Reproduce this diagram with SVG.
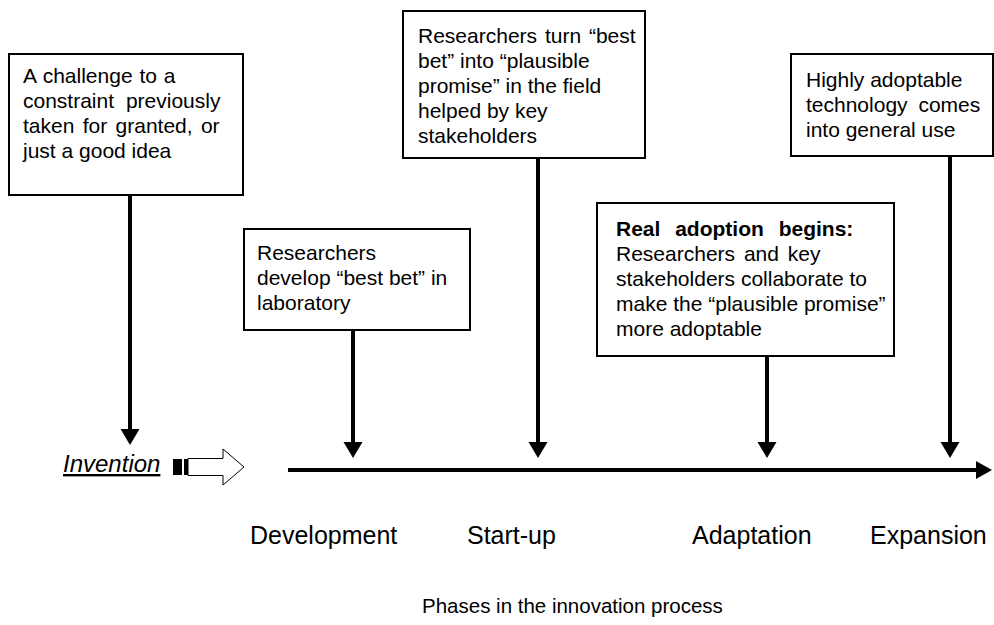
<svg xmlns="http://www.w3.org/2000/svg" width="994" height="625" viewBox="0 0 994 625">
<defs>
<style>
.box{fill:#fff;stroke:#000;stroke-width:2}
.t{font-family:"Liberation Sans",Arial,sans-serif;font-size:21px;fill:#000}
.lbl{font-family:"Liberation Sans",Arial,sans-serif;font-size:25px;fill:#000}
.conn{stroke:#000;stroke-width:4;fill:none}
.head{fill:#000}
</style>
</defs>
<rect width="994" height="625" fill="#fff"/>

<g id="connectors">
<line class="conn" x1="130" y1="195" x2="130" y2="430"/>
<polygon class="head" points="120.5,429 139.5,429 130,445"/>
<line class="conn" x1="353" y1="330" x2="353" y2="443"/>
<polygon class="head" points="343.5,442 362.5,442 353,458"/>
<line class="conn" x1="538" y1="158" x2="538" y2="443"/>
<polygon class="head" points="528.5,442 547.5,442 538,458"/>
<line class="conn" x1="767" y1="356" x2="767" y2="443"/>
<polygon class="head" points="757.5,442 776.5,442 767,458"/>
<line class="conn" x1="950" y1="156" x2="950" y2="443"/>
<polygon class="head" points="940.5,442 959.5,442 950,458"/>
<line class="conn" x1="288" y1="470" x2="978" y2="470"/>
<polygon class="head" points="976,461 992,470 976,479"/>
</g>

<g id="n-challenge">
<rect class="box" x="9" y="54" width="234" height="141"/>
<text class="t" x="23" y="83" word-spacing="1">A challenge to a</text>
<text class="t" x="23" y="108" word-spacing="6">constraint previously</text>
<text class="t" x="23" y="133" word-spacing="2.5">taken for granted, or</text>
<text class="t" x="23" y="158">just a good idea</text>
</g>

<g id="n-fieldtest">
<rect class="box" x="403" y="11" width="242" height="147"/>
<text class="t" x="418" y="43" word-spacing="2">Researchers turn “best</text>
<text class="t" x="418" y="68">bet” into “plausible</text>
<text class="t" x="418" y="93">promise” in the field</text>
<text class="t" x="418" y="118">helped by key</text>
<text class="t" x="418" y="143">stakeholders</text>
</g>

<g id="n-general">
<rect class="box" x="791" y="54" width="202" height="102"/>
<text class="t" x="806" y="87">Highly adoptable</text>
<text class="t" x="806" y="112" word-spacing="5">technology comes</text>
<text class="t" x="806" y="137">into general use</text>
</g>

<g id="n-lab">
<rect class="box" x="244" y="229" width="226" height="101"/>
<text class="t" x="257" y="260">Researchers</text>
<text class="t" x="257" y="285">develop “best bet” in</text>
<text class="t" x="257" y="310">laboratory</text>
</g>

<g id="n-adoption">
<rect class="box" x="597" y="203" width="297" height="153"/>
<text class="t" x="616" y="236" font-weight="bold" word-spacing="9">Real adoption begins:</text>
<text class="t" x="616" y="261" word-spacing="3">Researchers and key</text>
<text class="t" x="616" y="286">stakeholders collaborate to</text>
<text class="t" x="616" y="311">make the “plausible promise”</text>
<text class="t" x="616" y="336">more adoptable</text>
</g>

<g id="n-invention">
<text x="63" y="472" font-family="Liberation Sans, Arial, sans-serif" font-size="24" font-style="italic" text-decoration="underline">Invention</text>
<rect x="173" y="459" width="9" height="16" fill="#000"/>
<rect x="184" y="459" width="4" height="16" fill="#000"/>
<path d="M188,458.5 L223,458.5 L223,449 L244,467 L223,485 L223,475.5 L188,475.5 Z" fill="#fff" stroke="#000" stroke-width="1"/>
</g>

<g id="phases">
<text class="lbl" x="250" y="544">Development</text>
<text class="lbl" x="467" y="544">Start-up</text>
<text class="lbl" x="692" y="544">Adaptation</text>
<text class="lbl" x="870" y="544">Expansion</text>
<text x="422" y="613" font-family="Liberation Sans, Arial, sans-serif" font-size="20.5">Phases in the innovation process</text>
</g>
</svg>
